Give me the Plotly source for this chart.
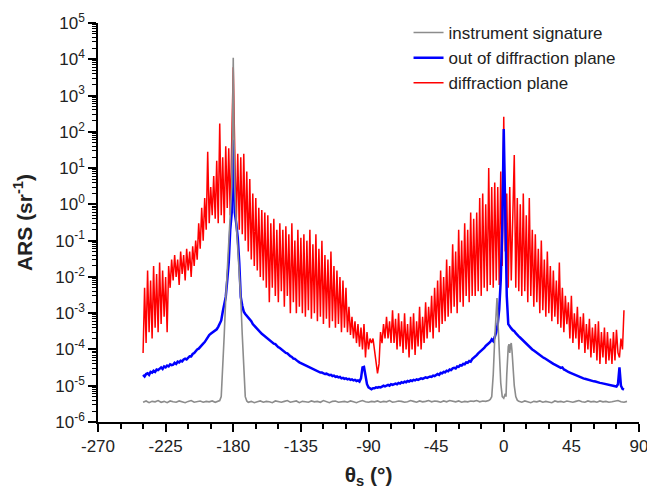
import plotly.graph_objects as go

# ---------------- data ----------------
theta = list(range(-240, 81))  # 1 degree steps, -240 ... 80

diffraction_plane = [
    8e-5, 5e-3, 1.5e-4, 1.5e-2, 3e-4, 8e-3, 2e-4, 2e-2, 4e-4, 1.2e-2,          # -240..-231
    3e-4, 2.5e-2, 5e-4, 1.5e-2, 8e-4, 1e-2, 3e-4, 2e-2, 5e-3, 3e-2,            # -230..-221
    8e-3, 4e-2, 1e-2, 3e-2, 6e-3, 5e-2, 1.2e-2, 4e-2, 8e-3, 6e-2,              # -220..-211
    1.5e-2, 5e-2, 1e-2, 7e-2, 2e-2, 1e-1, 3e-2, 3e-1, 6e-2, 8e-1,              # -210..-201
    1e-1, 1.5, 2e-1, 28, 3e-1, 3, 5e-1, 6, 4e-1, 16,                           # -200..-191
    3e-1, 170, 5e-1, 20, 3e-1, 40, 8e-1, 35, 5e-1, 60,                         # -190..-181
    6000, 30, 3e-1, 25, 2e-1, 20, 1.5e-1, 25, 1e-1, 8,                         # -180..-171
    5e-2, 5, 3e-2, 2, 2e-2, 1.5, 1.5e-2, 8e-1, 1e-2, 7e-1,                     # -170..-161
    8e-3, 6e-1, 5e-3, 5e-1, 2e-3, 3e-1, 5e-3, 4e-1, 3e-3, 2e-1,                # -160..-151
    2e-3, 3e-1, 4e-3, 2e-1, 1.5e-3, 2.5e-1, 3e-3, 1.5e-1, 1e-3, 3e-1,          # -150..-141
    2e-3, 1e-1, 1e-3, 2e-1, 1.5e-3, 1.2e-1, 1e-3, 1.5e-1, 8e-4, 1e-1,          # -140..-131
    1.2e-3, 2e-1, 7e-4, 8e-2, 1e-3, 1.5e-1, 6e-4, 6e-2, 8e-4, 1e-1,            # -130..-121
    5e-4, 4e-2, 7e-4, 3e-2, 4e-4, 5e-2, 6e-4, 2e-2, 4e-4, 1.5e-2,              # -120..-111
    5e-4, 1e-2, 3e-4, 8e-3, 4e-4, 5e-3, 3e-4, 1.5e-3, 2.5e-4, 8e-4,            # -110..-101
    2e-4, 6e-4, 1.5e-4, 5e-4, 1.2e-4, 4e-4, 1e-4, 5e-4, 6e-5, 3e-4,            # -100..-91
    1e-4, 2e-4, 1.5e-4, 2e-4, 1e-4, 5e-5, 2.2e-5, 4e-5, 3e-4, 1.5e-4,          # -90..-81
    5e-4, 2e-4, 8e-4, 2e-4, 6e-4, 1.5e-4, 1.2e-3, 1.5e-4, 7e-4, 1e-4,          # -80..-71
    1e-3, 1.2e-4, 6e-4, 8e-5, 1e-3, 1e-4, 5e-4, 6e-5, 8e-4, 1e-4,              # -70..-61
    1e-3, 7e-5, 6e-4, 1.2e-4, 1.5e-3, 1e-4, 8e-4, 1.5e-4, 2e-3, 2e-4,          # -60..-51
    1.5e-3, 3e-4, 3e-3, 2e-4, 5e-3, 4e-4, 8e-3, 3e-4, 1.5e-2, 5e-4,            # -50..-41
    1e-2, 6e-4, 3e-2, 8e-4, 2e-2, 1e-3, 8e-2, 1.5e-3, 5e-2, 1e-3,              # -40..-31
    2e-1, 2e-3, 1e-1, 1.5e-3, 3e-1, 3e-3, 2e-1, 2e-3, 6e-1, 3e-3,              # -30..-21
    4e-1, 3e-3, 6e-1, 4e-3, 1.5, 3e-3, 2, 5e-3, 1, 4e-3,                       # -20..-11
    10, 6e-3, 3, 5e-3, 4, 8e-3, 3, 6e-3, 8, 2e-2,                              # -10..-1
    260, 5e-2, 2, 5e-3, 3, 8e-3, 1.5, 23, 5e-3, 1.5,                           # 0..9
    4e-3, 1, 3e-3, 2, 4e-3, 5e-1, 2e-3, 1.5, 3e-3, 2e-1,                       # 10..19
    1.5e-3, 1.5e-1, 2e-3, 6e-2, 1e-3, 1e-1, 1.2e-3, 3e-2, 8e-4, 5e-2,          # 20..29
    1e-3, 2e-2, 6e-4, 1.5e-2, 8e-4, 8e-3, 5e-4, 2.5e-2, 4e-4, 5e-3,            # 30..39
    3e-4, 3e-3, 5e-4, 2e-3, 2e-4, 3e-3, 1.5e-4, 1e-3, 2e-4, 1.5e-3,            # 40..49
    1e-4, 8e-4, 1.5e-4, 1e-3, 8e-5, 5e-4, 1e-4, 7e-4, 6e-5, 4e-4,              # 50..59
    8e-5, 5e-4, 5e-5, 6e-4, 4e-5, 3e-4, 6e-5, 4e-4, 4e-5, 3e-4,                # 60..69
    5e-5, 2e-4, 4e-5, 3e-4, 5e-5, 3.5e-4, 8e-5, 6e-5, 2e-4, 1e-4,              # 70..79
    1.2e-3,                                                                     # 80
]

out_of_plane = [
    2.0e-5, 1.8e-5, 2.1e-5, 2.2e-5, 2.0e-5, 2.4e-5, 2.3e-5, 2.6e-5, 2.4e-5, 2.8e-5,          # -240..-231
    2.7e-5, 2.9e-5, 3.2e-5, 2.9e-5, 3.4e-5, 3.2e-5, 3.6e-5, 3.4e-5, 3.9e-5, 3.7e-5,          # -230..-221
    3.8e-5, 4.3e-5, 4.0e-5, 4.6e-5, 4.4e-5, 4.9e-5, 4.7e-5, 5.3e-5, 5.6e-5, 5.3e-5,          # -220..-211
    6.0e-5, 6.5e-5, 6.4e-5, 7.5e-5, 8.0e-5, 9.0e-5, 1.0e-4, 1.05e-4, 1.2e-4, 1.3e-4,         # -210..-201
    1.45e-4, 1.6e-4, 1.9e-4, 2.2e-4, 2.5e-4, 2.7e-4, 2.9e-4, 3.1e-4, 3.3e-4, 3.6e-4,         # -200..-191
    4.2e-4, 5.0e-4, 6.3e-4, 1.1e-3, 1.8e-3, 2.8e-3, 8e-3, 2.5e-2, 0.2, 0.6,                  # -190..-181
    60, 0.6, 0.3, 0.12, 2.5e-2, 2.8e-3, 1.6e-3, 1.1e-3, 9.5e-4, 8.5e-4,                      # -180..-171
    8.0e-4, 7.0e-4, 6.0e-4, 5.0e-4, 4.5e-4, 4.0e-4, 3.5e-4, 3.2e-4, 2.9e-4, 2.7e-4,          # -170..-161
    2.5e-4, 2.3e-4, 2.1e-4, 2.0e-4, 1.8e-4, 1.65e-4, 1.6e-4, 1.45e-4, 1.4e-4, 1.25e-4,       # -160..-151
    1.15e-4, 1.1e-4, 1.0e-4, 9.5e-5, 8.5e-5, 8.0e-5, 7.8e-5, 7.0e-5, 6.5e-5, 6.2e-5,         # -150..-141
    5.6e-5, 5.5e-5, 4.9e-5, 4.7e-5, 4.4e-5, 4.2e-5, 3.9e-5, 3.8e-5, 3.5e-5, 3.4e-5,          # -140..-131
    3.2e-5, 3.1e-5, 2.9e-5, 2.8e-5, 2.7e-5, 2.6e-5, 2.5e-5, 2.4e-5, 2.3e-5, 2.3e-5,          # -130..-121
    2.2e-5, 2.1e-5, 2.15e-5, 2.0e-5, 1.95e-5, 2.0e-5, 1.85e-5, 1.9e-5, 1.75e-5, 1.8e-5,      # -120..-111
    1.7e-5, 1.75e-5, 1.6e-5, 1.65e-5, 1.55e-5, 1.6e-5, 1.5e-5, 1.55e-5, 1.45e-5, 1.5e-5,     # -110..-101
    1.4e-5, 1.45e-5, 1.35e-5, 1.4e-5, 1.3e-5, 1.6e-5, 3.2e-5, 3.3e-5, 1.9e-5, 1.1e-5,        # -100..-91
    9.0e-6, 8.5e-6, 8.0e-6, 8.5e-6, 8.5e-6, 9.0e-6, 8.8e-6, 9.2e-6, 9.0e-6, 9.5e-6,          # -90..-81
    1.0e-5, 9.6e-6, 1.0e-5, 1.05e-5, 1.0e-5, 1.1e-5, 1.05e-5, 1.1e-5, 1.15e-5, 1.1e-5,       # -80..-71
    1.2e-5, 1.15e-5, 1.25e-5, 1.2e-5, 1.3e-5, 1.25e-5, 1.35e-5, 1.3e-5, 1.4e-5, 1.35e-5,     # -70..-61
    1.45e-5, 1.4e-5, 1.5e-5, 1.45e-5, 1.55e-5, 1.6e-5, 1.55e-5, 1.65e-5, 1.7e-5, 1.65e-5,    # -60..-51
    1.75e-5, 1.8e-5, 1.75e-5, 1.9e-5, 1.85e-5, 2.0e-5, 2.1e-5, 2.0e-5, 2.25e-5, 2.2e-5,      # -50..-41
    2.4e-5, 2.35e-5, 2.6e-5, 2.5e-5, 2.8e-5, 2.7e-5, 3.0e-5, 3.1e-5, 3.0e-5, 3.4e-5,         # -40..-31
    3.3e-5, 3.7e-5, 3.6e-5, 4.0e-5, 3.9e-5, 4.4e-5, 4.3e-5, 4.8e-5, 4.6e-5, 5.4e-5,          # -30..-21
    5.8e-5, 6.2e-5, 7.0e-5, 7.8e-5, 8.5e-5, 9.0e-5, 1.0e-4, 1.1e-4, 1.25e-4, 1.35e-4,        # -20..-11
    1.5e-4, 1.6e-4, 1.9e-4, 1.7e-4, 2.2e-4, 3.0e-4, 5.0e-4, 1.3e-3, 8e-3, 0.2,               # -10..-1
    120, 0.15, 3e-3, 5e-4, 4.2e-4, 3.8e-4, 3.4e-4, 3.2e-4, 2.8e-4, 2.6e-4,                   # 0..9
    2.3e-4, 2.1e-4, 1.9e-4, 1.7e-4, 1.6e-4, 1.4e-4, 1.3e-4, 1.2e-4, 1.1e-4, 1.0e-4,          # 10..19
    9.3e-5, 8.6e-5, 8.1e-5, 7.4e-5, 7.0e-5, 6.6e-5, 6.1e-5, 5.8e-5, 5.4e-5, 5.1e-5,          # 20..29
    4.8e-5, 4.5e-5, 4.3e-5, 4.0e-5, 3.8e-5, 3.6e-5, 3.4e-5, 3.2e-5, 3.1e-5, 3.2e-5,          # 30..39
    2.8e-5, 2.7e-5, 2.5e-5, 2.4e-5, 2.3e-5, 2.2e-5, 2.1e-5, 2.0e-5, 1.95e-5, 1.85e-5,        # 40..49
    1.8e-5, 1.7e-5, 1.65e-5, 1.6e-5, 1.55e-5, 1.5e-5, 1.45e-5, 1.4e-5, 1.38e-5, 1.35e-5,     # 50..59
    1.32e-5, 1.3e-5, 1.25e-5, 1.22e-5, 1.2e-5, 1.18e-5, 1.15e-5, 1.12e-5, 1.1e-5, 1.08e-5,   # 60..69
    1.05e-5, 1.02e-5, 1.0e-5, 9.8e-6, 9.6e-6, 9.5e-6, 1.1e-5, 3.2e-5, 1.0e-5, 8.2e-6,        # 70..79
    7.8e-6,                                                                                   # 80
]

instrument_theta = [
    -240, -238, -236, -234, -232, -230, -228, -226, -224, -222,
    -220, -218, -216, -214, -212, -210, -208, -206, -204, -202,
    -200, -198, -196, -194, -192, -190, -189, -188, -187, -186,
    -185, -184, -183, -182, -181, -180.5, -180, -179.5, -179, -178,
    -177, -176, -175, -174, -173, -172, -171, -170, -168, -166,
    -164, -162, -160, -158, -156, -154, -152, -150, -148, -146,
    -144, -142, -140, -138, -136, -134, -132, -130, -128, -126,
    -124, -122, -120, -118, -116, -114, -112, -110, -108, -106,
    -104, -102, -100, -98, -96, -94, -92, -90, -88, -86,
    -84, -82, -80, -78, -76, -74, -72, -70, -68, -66,
    -64, -62, -60, -58, -56, -54, -52, -50, -48, -46,
    -44, -42, -40, -38, -36, -34, -32, -30, -28, -26,
    -24, -22, -20, -18, -16, -14, -12, -10, -9, -8,
    -7, -6, -5, -4.5, -4, -3, -2, -1, 0, 1,
    1.5, 2, 2.5, 3, 3.5, 4, 4.5, 5, 5.5, 6,
    7, 8, 9, 10, 12, 14, 16, 18, 20, 22,
    24, 26, 28, 30, 32, 34, 36, 38, 40, 42,
    44, 46, 48, 50, 52, 54, 56, 58, 60, 62,
    64, 66, 68, 70, 72, 74, 76, 78, 80, 82,
]
instrument_signature = [
    3.5e-6, 3.8e-6, 3.4e-6, 3.7e-6, 3.6e-6, 3.9e-6, 3.5e-6, 3.7e-6, 3.4e-6, 3.8e-6,
    3.6e-6, 3.5e-6, 3.8e-6, 3.6e-6, 3.4e-6, 3.7e-6, 3.9e-6, 3.5e-6, 3.6e-6, 3.8e-6,
    3.5e-6, 3.7e-6, 3.6e-6, 3.8e-6, 3.5e-6, 3.7e-6, 3.9e-6, 5e-6, 2.5e-5, 2.5e-4,
    2.5e-3, 1.5e-2, 6e-2, 0.3, 3, 100, 1.1e4, 100, 3, 0.3,
    6e-2, 1.5e-2, 2.5e-3, 2.5e-4, 2.5e-5, 5e-6, 3.8e-6, 3.5e-6, 3.7e-6, 3.4e-6,
    3.6e-6, 3.8e-6, 3.5e-6, 3.7e-6, 3.6e-6, 3.4e-6, 3.8e-6, 3.6e-6, 3.5e-6, 3.7e-6,
    3.9e-6, 3.5e-6, 3.6e-6, 3.8e-6, 3.4e-6, 3.7e-6, 3.6e-6, 3.5e-6, 3.8e-6, 3.6e-6,
    3.7e-6, 3.5e-6, 3.9e-6, 3.6e-6, 3.4e-6, 3.7e-6, 3.8e-6, 3.5e-6, 3.6e-6, 3.7e-6,
    3.5e-6, 3.8e-6, 3.6e-6, 3.4e-6, 3.7e-6, 3.9e-6, 3.6e-6, 3.5e-6, 3.7e-6, 3.6e-6,
    3.8e-6, 3.5e-6, 3.7e-6, 3.6e-6, 3.9e-6, 3.5e-6, 3.6e-6, 3.8e-6, 3.7e-6, 3.5e-6,
    3.6e-6, 3.9e-6, 3.7e-6, 3.5e-6, 3.8e-6, 3.6e-6, 3.7e-6, 3.9e-6, 3.6e-6, 3.8e-6,
    3.7e-6, 3.5e-6, 3.8e-6, 3.6e-6, 3.9e-6, 3.7e-6, 3.6e-6, 3.8e-6, 3.5e-6, 3.7e-6,
    3.6e-6, 3.8e-6, 3.7e-6, 3.9e-6, 3.6e-6, 3.8e-6, 3.7e-6, 3.9e-6, 4.2e-6, 5e-6,
    2e-5, 2e-4, 1.5e-3, 2.6e-3, 8e-4, 8e-5, 1.2e-5, 5e-6, 4.5e-6, 6e-6,
    5e-6, 2e-5, 8e-5, 1.2e-4, 1.4e-4, 8e-5, 1.3e-4, 1.5e-4, 9e-5, 4e-5,
    1e-5, 5e-6, 4e-6, 3.7e-6, 3.5e-6, 3.8e-6, 3.6e-6, 3.4e-6, 3.7e-6, 3.6e-6,
    3.8e-6, 3.5e-6, 3.7e-6, 3.6e-6, 3.4e-6, 3.8e-6, 3.6e-6, 3.7e-6, 3.5e-6, 3.8e-6,
    3.6e-6, 3.5e-6, 3.7e-6, 3.9e-6, 3.6e-6, 3.5e-6, 3.8e-6, 3.6e-6, 3.7e-6, 3.5e-6,
    3.8e-6, 3.6e-6, 3.7e-6, 3.5e-6, 3.6e-6, 3.8e-6, 3.9e-6, 3.6e-6, 3.5e-6, 3.7e-6,
]

x_tick_values = [-270, -225, -180, -135, -90, -45, 0, 45, 90]
x_tick_labels = ["-270", "-225", "-180", "-135", "-90", "-45", "0", "45", "90"]
y_tick_values = [1e-6, 1e-5, 1e-4, 1e-3, 1e-2, 1e-1, 1e0, 1e1, 1e2, 1e3, 1e4, 1e5]
y_tick_labels = ["10<sup>-6</sup>", "10<sup>-5</sup>", "10<sup>-4</sup>", "10<sup>-3</sup>",
                 "10<sup>-2</sup>", "10<sup>-1</sup>", "10<sup>0</sup>", "10<sup>1</sup>",
                 "10<sup>2</sup>", "10<sup>3</sup>", "10<sup>4</sup>", "10<sup>5</sup>"]
y_minor_values = [m * 10.0 ** e for e in range(-6, 5) for m in range(2, 10)]

FONT = "Liberation Sans, Arial, sans-serif"

fig = go.Figure()
fig.add_trace(go.Scatter(x=theta, y=diffraction_plane, mode="lines", name="diffraction plane",
                         line=dict(color="#FF0000", width=1.5)))
fig.add_trace(go.Scatter(x=theta, y=out_of_plane, mode="lines", name="out of diffraction plane",
                         line=dict(color="#0000FF", width=2.5)))
fig.add_trace(go.Scatter(x=instrument_theta, y=instrument_signature, mode="lines",
                         name="instrument signature",
                         line=dict(color="#8C8C8C", width=1.6)))

fig.update_layout(
    width=647, height=489,
    margin=dict(l=98, r=8, t=23, b=67),
    paper_bgcolor="white", plot_bgcolor="white",
    font=dict(family=FONT, color="black", size=17),
    showlegend=True,
    legend=dict(x=0.574, y=1.02, xanchor="left", yanchor="top", traceorder="reversed",
                font=dict(size=17, color="#222222"), bgcolor="rgba(255,255,255,0)",
                borderwidth=0, itemwidth=30, tracegroupgap=0),
)

fig.update_xaxes(
    range=[-270, 90], showgrid=False, zeroline=False, automargin=False,
    showline=True, linecolor="black", linewidth=1.5, mirror=False,
    tickmode="array", tickvals=x_tick_values, ticktext=x_tick_labels,
    ticklabeloverflow="allow",
    ticks="outside", ticklen=8, tickwidth=1.5, tickcolor="black",
    tickfont=dict(size=17, color="#222222"),
    minor=dict(ticks="outside", ticklen=5, tickwidth=1.5, tickcolor="black", dtick=15, tick0=-270, showgrid=False),
    title=dict(text="<b>θ<sub>s</sub> (°)</b>", font=dict(size=21, color="#222222"), standoff=20),
)
fig.update_yaxes(
    type="log", range=[-6, 5], showgrid=False, zeroline=False, automargin=False,
    showline=True, linecolor="black", linewidth=1.5, mirror=False,
    tickmode="array", tickvals=y_tick_values, ticktext=y_tick_labels,
    ticklabeloverflow="allow",
    ticks="outside", ticklen=8, tickwidth=1.5, tickcolor="black",
    tickfont=dict(size=17, color="#222222"),
    minor=dict(ticks="outside", ticklen=4, tickwidth=1, tickcolor="black",
               tickmode="array", tickvals=y_minor_values, showgrid=False),
    title=dict(text="<b>ARS (sr<sup>-1</sup>)</b>", font=dict(size=21, color="#222222"), standoff=17),
)

# remove the browser's default 8px page margin so the 647x489 figure fills the window exactly
fig.write_html("out.html", config={"displayModeBar": False},
               post_script="document.body.style.margin='0';document.body.style.overflow='hidden';")
